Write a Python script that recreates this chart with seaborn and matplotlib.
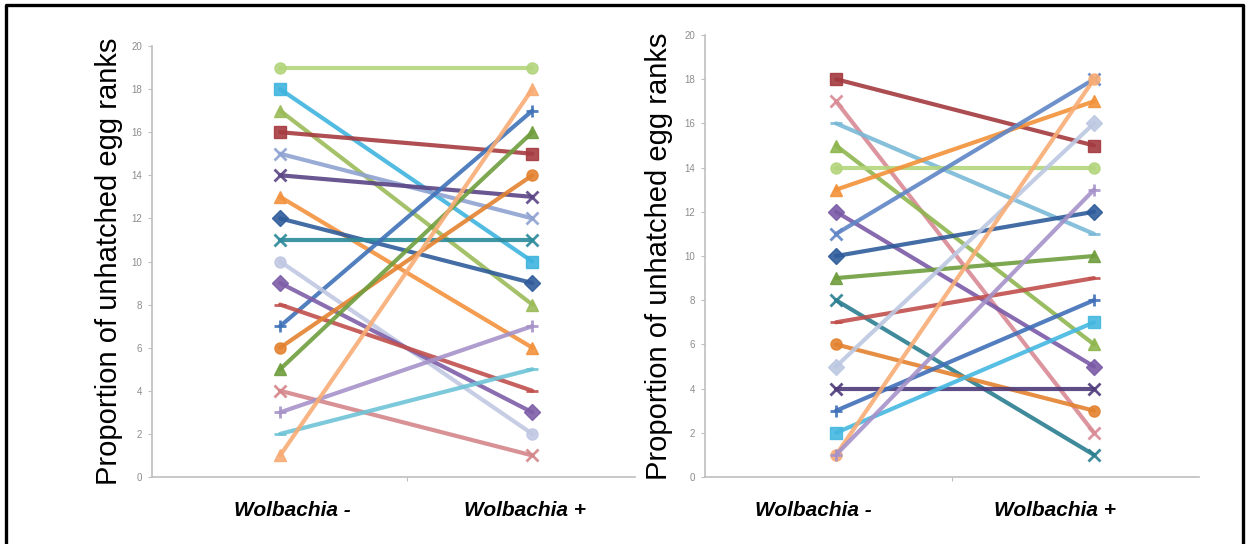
import matplotlib
matplotlib.use("Agg")
import matplotlib.pyplot as plt
from matplotlib.lines import Line2D
import seaborn as sns
import pandas as pd

# ---------------- data ----------------
conditions = ["Wolbachia -", "Wolbachia +"]

left_minus = [19, 18, 17, 16, 15, 14, 13, 12, 11, 7, 10, 9, 8, 6, 5, 4, 3, 2, 1]
left_plus = [19, 10, 8, 15, 12, 13, 6, 9, 11, 17, 2, 3, 4, 14, 16, 1, 7, 5, 18]
left_colors = ["#B3D57C", "#3FB4DF", "#9BBB59", "#A63C41", "#8FA3D2", "#5A4585",
               "#F3923E", "#2F5C9B", "#2B8A9B", "#3F72B8", "#C0C8E2", "#7D5EA8",
               "#C0504D", "#E3822F", "#6F9E3D", "#D4868A", "#A592C9", "#6DC3D6",
               "#F8AC74"]
left_markers = ["o", "s", "^", "s", "x", "x", "^", "D", "x", "+", "o", "D",
                "_", "o", "^", "x", "+", "_", "^"]

right_minus = [18, 17, 16, 15, 14, 13, 12, 11, 10, 9, 8, 7, 6, 5, 4, 3, 2, 1, 1]
right_plus = [15, 2, 11, 6, 14, 17, 5, 18, 12, 10, 1, 9, 3, 16, 4, 8, 7, 18, 13]
right_colors = ["#A33A3F", "#D98A95", "#79B9D6", "#8EB64F", "#B3D57C", "#F29138",
                "#7A5AA6", "#5F85C6", "#2F5C9B", "#6F9E3D", "#2A7F90", "#C0504D",
                "#E3822F", "#BCC8E2", "#4E3A7A", "#3F6FB8", "#45B8E0", "#F8AC74",
                "#A592C9"]
right_markers = ["s", "x", "_", "^", "o", "^", "D", "x", "D", "^", "x", "_",
                 "o", "D", "x", "+", "s", "o", "+"]

y_ticks = [0, 2, 4, 6, 8, 10, 12, 14, 16, 18, 20]
y_label = "Proportion of unhatched egg ranks"

# ---------------- figure ----------------
sns.set_theme(style="white")
plt.rcParams["font.family"] = ["Liberation Sans", "DejaVu Sans"]

fig = plt.figure(figsize=(12.48, 5.44), dpi=100)
fig.patch.set_facecolor("white")

ax_l = fig.add_axes([152 / 1248, 67 / 544, 483 / 1248, 431 / 544])
ax_r = fig.add_axes([705 / 1248, 67 / 544, 494 / 1248, 442 / 544])


def draw(ax, minus, plus, colors, markers, label_pos, mid_tick, ylab_pad):
    for i, (a, b) in enumerate(zip(minus, plus)):
        d = pd.DataFrame({"cond": [0, 1], "rank": [a, b]})
        m = markers[i]
        mew = 2.0 if m in ("x", "+", "_") else 1.0
        sns.lineplot(data=d, x="cond", y="rank", ax=ax, color=colors[i],
                     lw=3.0, marker=m, markersize=8, markeredgewidth=mew,
                     markeredgecolor=colors[i], alpha=0.9, legend=False)
    ax.set_xlim(-0.508, 1.407)
    ax.set_ylim(0, 20)
    ax.set_yticks(y_ticks)
    ax.set_yticklabels([str(t) for t in y_ticks], fontsize=7, color="#8C8C8C")
    ax.tick_params(axis="y", direction="out", length=3, width=0.8,
                   color="#BFBFBF", pad=4, left=True)
    ax.set_xticks(label_pos)
    ax.set_xticklabels(conditions, fontsize=15, fontweight="bold",
                       fontstyle="italic", color="black")
    ax.set_xticks([mid_tick], minor=True)
    ax.tick_params(axis="x", which="major", length=0, pad=17)
    ax.tick_params(axis="x", which="minor", direction="out", length=3,
                   width=0.8, color="#BFBFBF", bottom=True)
    ax.set_xlabel("")
    ax.set_ylabel(y_label, fontsize=21, color="black", labelpad=ylab_pad)
    for s in ("top", "right"):
        ax.spines[s].set_visible(False)
    for s in ("left", "bottom"):
        ax.spines[s].set_color("#BFBFBF")
        ax.spines[s].set_linewidth(1.2)
    ax.set_facecolor("white")


draw(ax_l, left_minus, left_plus, left_colors, left_markers,
     [0.048, 0.972], 0.504, 6)
draw(ax_r, right_minus, right_plus, right_colors, right_markers,
     [-0.089, 0.849], 0.45, 8)

# outer frame (left, top, right)
fig.add_artist(Line2D([6 / 1248, 6 / 1248, 1243 / 1248, 1243 / 1248],
                      [0, 1 - 5 / 544, 1 - 5 / 544, 0],
                      transform=fig.transFigure, color="black", lw=2.4))

fig.savefig("out.png", dpi=100)
